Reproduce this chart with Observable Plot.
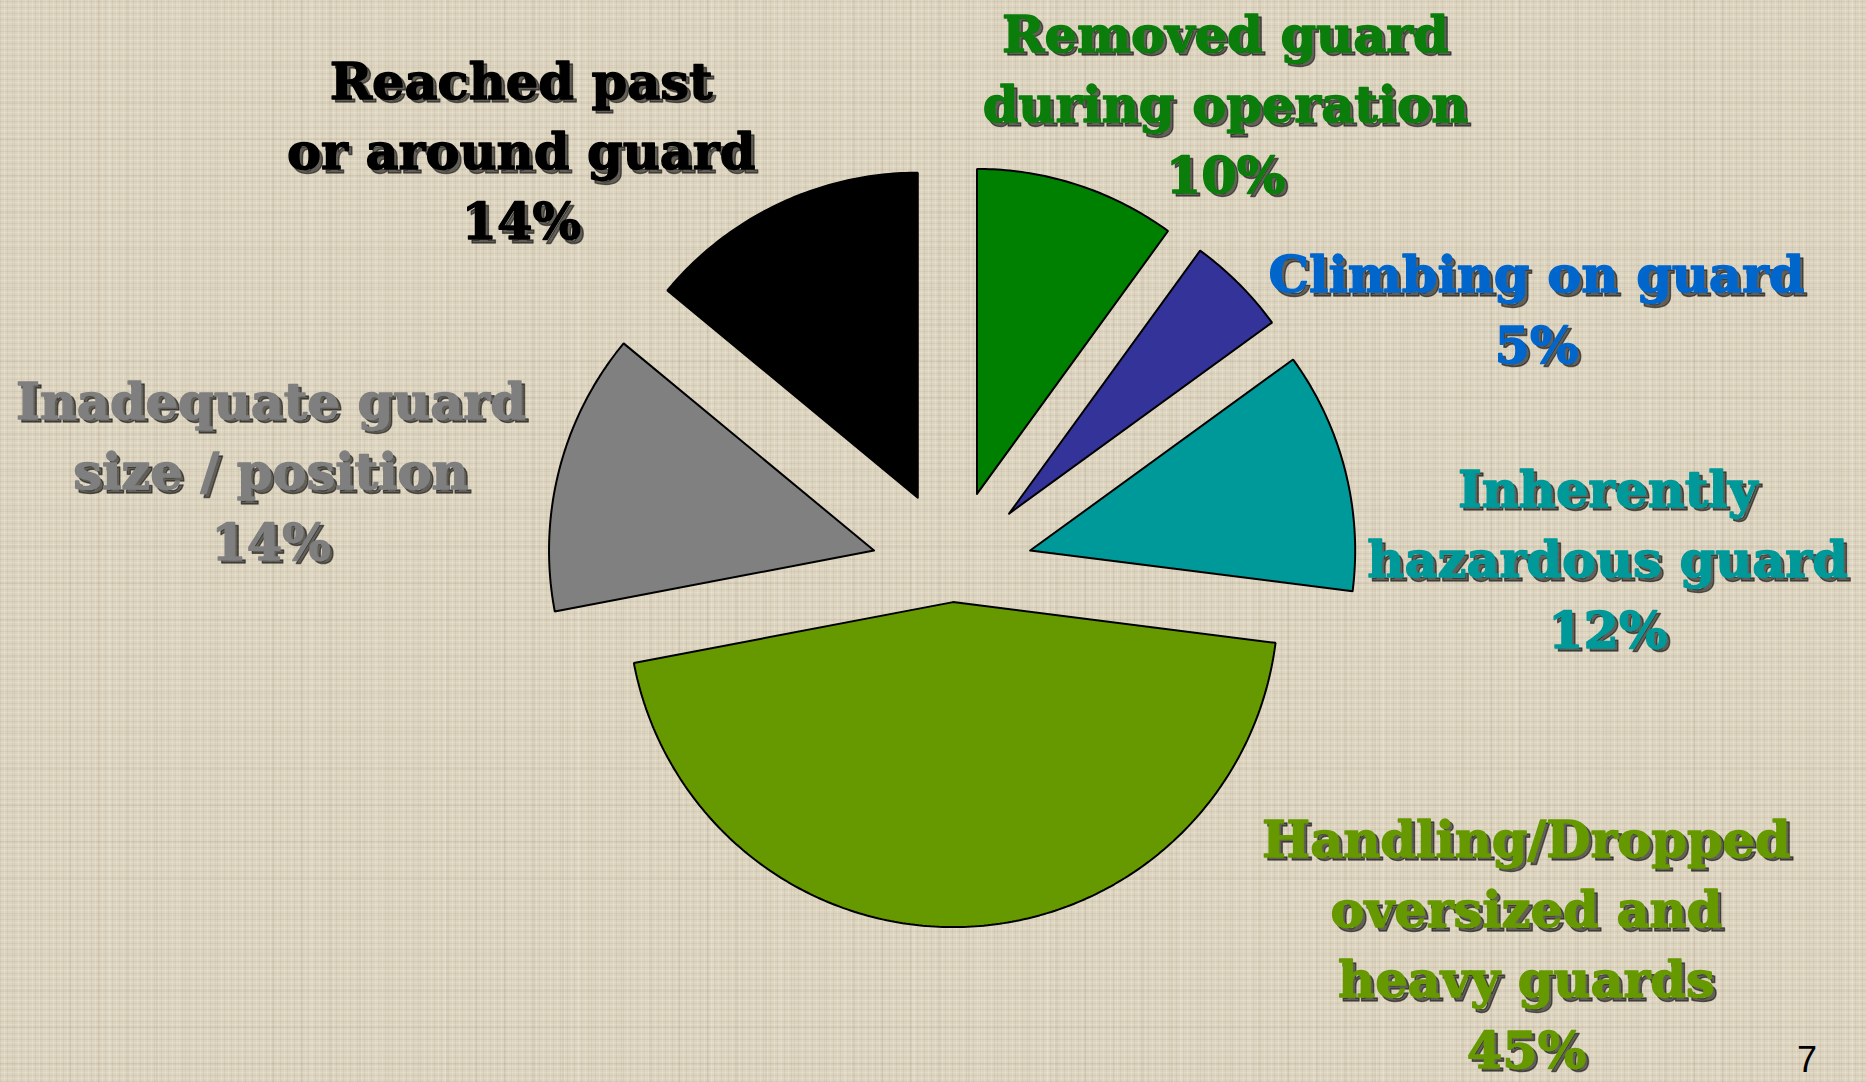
<!DOCTYPE html>
<html>
<head>
<meta charset="utf-8">
<script src="https://cdn.jsdelivr.net/npm/d3@7"></script>
<script src="https://cdn.jsdelivr.net/npm/@observablehq/plot@0.6"></script>
<style>
  html, body { margin: 0; padding: 0; }
  body {
    width: 1866px; height: 1082px; overflow: hidden; position: relative;
    background-color: #ddd4c0;
    background-image:
      repeating-linear-gradient(90deg, rgba(110,95,70,0.08) 0 1px, transparent 1px 4px, rgba(255,252,240,0.16) 4px 5px, transparent 5px 7px),
      repeating-linear-gradient(0deg, rgba(110,95,70,0.08) 0 1px, transparent 1px 3px, rgba(255,252,240,0.16) 3px 4px, transparent 4px 6px),
      repeating-linear-gradient(90deg, transparent 0 11px, rgba(120,105,80,0.07) 11px 13px, transparent 13px 29px),
      repeating-linear-gradient(0deg, transparent 0 17px, rgba(120,105,80,0.06) 17px 19px, transparent 19px 37px),
      repeating-linear-gradient(90deg, transparent 0 41px, rgba(255,255,245,0.10) 41px 44px, transparent 44px 67px);
  }
  #chart { position: absolute; left: 0; top: 0; }
  #page { position: absolute; left: 1797px; top: 1040px; font: 36px "Liberation Sans", Arial, sans-serif; color: #000; line-height: 40px; }
</style>
</head>
<body>
<div id="chart"></div>
<div id="page">7</div>
<script>
// ---- data ----
const categories = [
  "Removed guard during operation",
  "Climbing on guard",
  "Inherently hazardous guard",
  "Handling/Dropped oversized and heavy guards",
  "Inadequate guard size / position",
  "Reached past or around guard"
];
const values = [10, 5, 12, 45, 14, 14];
const labelLines = [
  ["Removed guard", "during operation"],
  ["Climbing on guard"],
  ["Inherently", "hazardous guard"],
  ["Handling/Dropped", "oversized and", "heavy guards"],
  ["Inadequate guard", "size / position"],
  ["Reached past", "or around guard"]
];

// ---- styles / layout ----
const sliceColors = ["#008000", "#333399", "#009999", "#669900", "#808080", "#000000"];
const labelColors = ["#0a7d0a", "#0066cc", "#009999", "#669900", "#7f7f7f", "#000000"];
const explode = [0.248, 0.248, 0.248, 0.097, 0.248, 0.248]; // fraction of radius
// label anchor (last line baseline), in units of pie radius, relative to pie center
const labelAnchors = [[0.841, 1.163], [1.798, 0.640], [2.017, -0.237], [1.767, -1.530], [-2.096, 0.034], [-1.326, 1.019]];

const W = 1866, H = 1082, CX = 951.6, CY = 570.1, R = 325;
const FONT = "'Rockwell Extra Bold', Rockwell, 'DejaVu Serif', serif";

// ---- build slice outlines from values ----
const total = d3.sum(values);
let acc = 0;
const slicePts = [];
values.forEach((v, i) => {
  const a0 = acc / total * 2 * Math.PI;
  acc += v;
  const a1 = acc / total * 2 * Math.PI;
  const am = (a0 + a1) / 2;
  const ox = explode[i] * Math.sin(am), oy = explode[i] * Math.cos(am);
  const n = Math.max(8, Math.round((a1 - a0) * 80));
  const pts = [{x: ox, y: oy}];
  for (let k = 0; k <= n; ++k) {
    const t = a0 + (a1 - a0) * k / n;
    pts.push({x: ox + Math.sin(t), y: oy + Math.cos(t)});
  }
  pts.push({x: ox, y: oy});
  slicePts.push(pts);
});

const labels = categories.map((c, i) => ({
  text: [...labelLines[i], values[i] + "%"].join("\n"),
  x: labelAnchors[i][0], y: labelAnchors[i][1], color: labelColors[i]
}));

const marks = [];
slicePts.forEach((pts, i) => {
  marks.push(Plot.line(pts, {x: "x", y: "y", fill: sliceColors[i], stroke: "#000", strokeWidth: 2, strokeLinejoin: "miter", curve: "linear"}));
});
labels.forEach(d => {
  const common = {x: "x", y: "y", text: "text", fontSize: 51, fontWeight: "bold", fontFamily: FONT, lineAnchor: "bottom", lineHeight: 1.38, textAnchor: "middle", strokeWidth: 1.4, strokeLinejoin: "round"};
  marks.push(Plot.text([d], {...common, fill: "#111", stroke: "#111", fillOpacity: 0.6, strokeOpacity: 0.6, dx: 3.5, dy: 3.5}));
  marks.push(Plot.text([d], {...common, fill: d.color, stroke: d.color}));
});

const chart = Plot.plot({
  width: W, height: H, margin: 0,
  style: {background: "transparent", overflow: "visible"},
  x: {axis: null, domain: [-CX / R, (W - CX) / R]},
  y: {axis: null, domain: [(CY - H) / R, CY / R]},
  marks
});
document.getElementById("chart").appendChild(chart);
</script>
</body>
</html>
